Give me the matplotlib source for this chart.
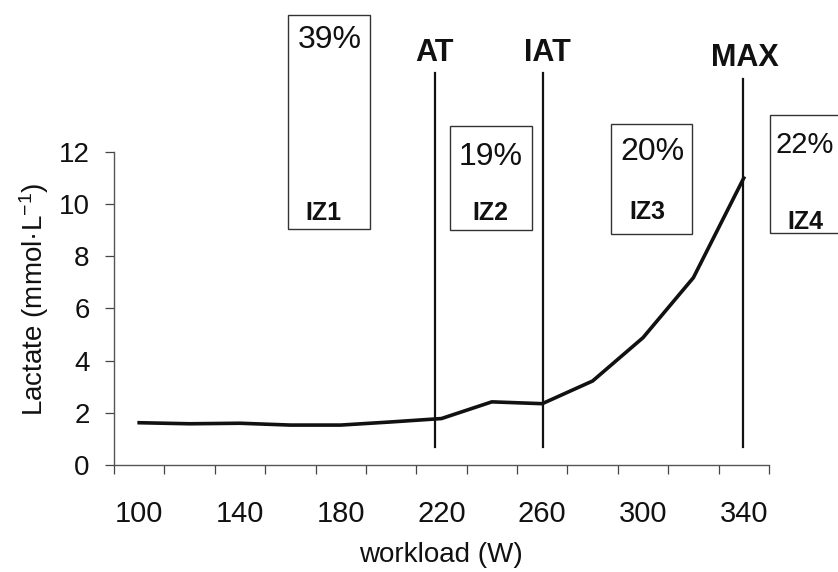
import matplotlib
matplotlib.use("Agg")
import matplotlib.pyplot as plt
from matplotlib.patches import Rectangle
import numpy as np

plt.rcParams['font.family'] = ['Liberation Sans', 'DejaVu Sans']
plt.rcParams['mathtext.fontset'] = 'custom'
plt.rcParams['mathtext.rm'] = 'Liberation Sans'
plt.rcParams['mathtext.it'] = 'Liberation Sans:italic'

# 数据
workload = [100, 120, 140, 160, 180, 200, 220, 240, 260, 280, 300, 320, 340]
lactate = [1.62, 1.58, 1.60, 1.53, 1.53, 1.65, 1.78, 2.42, 2.35, 3.22, 4.88, 7.18, 11.0]
xtick_labels = [100, 140, 180, 220, 260, 300, 340]
yticks = [0, 2, 4, 6, 8, 10, 12]

# 阈值线
thresholds = ['AT', 'IAT', 'MAX']
threshold_x = [217.4, 260.3, 339.7]

# 强度区
zones = ['IZ1', 'IZ2', 'IZ3', 'IZ4']
zone_pct = ['39%', '19%', '20%', '22%']

ink = '#111111'

fig = plt.figure(figsize=(8.38, 5.72), dpi=100)
ax = fig.add_axes([0.1360, 0.1871, 0.7816, 0.5472])

ax.plot(workload, lactate, color=ink, lw=2.6, solid_joinstyle='round')

ax.set_xlim(90, 350)
ax.set_ylim(0, 12)

# 类别轴：刻度在类别之间，标签隔一个
ax.set_xticks(np.arange(90, 351, 20))
ax.set_xticklabels([])
ax.set_xticks(xtick_labels, minor=True)
ax.set_xticklabels([str(v) for v in xtick_labels], minor=True)
ax.tick_params(axis='x', which='major', direction='out', length=6.5, width=0.9, color='#444444')
ax.tick_params(axis='x', which='minor', length=0, pad=25, labelsize=21, labelcolor=ink)

ax.set_yticks(yticks)
ax.set_yticklabels([str(v) for v in yticks])
ax.tick_params(axis='y', direction='out', length=6.5, width=0.9, color='#444444',
               pad=11, labelsize=20, labelcolor=ink)

for s in ['top', 'right']:
    ax.spines[s].set_visible(False)
for s in ['left', 'bottom']:
    ax.spines[s].set_color('#555555')
    ax.spines[s].set_linewidth(1.0)

fig.text(34 / 838, 1 - 299 / 572, 'Lactate (mmol·L$^{-1}$)', rotation=90,
         ha='center', va='center', fontsize=20, color=ink)
fig.text(441 / 838, 1 - 555 / 572, 'workload (W)', ha='center', va='center',
         fontsize=20, color=ink)

# 阈值竖线和标签
label_x = [217.4, 262.0, 340.5]
label_y = [15.8, 15.8, 15.6]
line_top = [15.03, 15.03, 14.8]
for name, x, lx, ly, top in zip(thresholds, threshold_x, label_x, label_y, line_top):
    ax.plot([x, x], [0.69, top], color=ink, lw=1.6, clip_on=False)
    ax.text(lx, ly, name, ha='center', va='center', fontsize=22,
            fontweight='bold', color=ink, clip_on=False)

# 强度区方框
box_x0 = [159.1, 223.4, 287.3, 350.4]
box_x1 = [191.6, 255.9, 319.5, 402.0]
box_y0 = [9.05, 9.01, 8.86, 8.90]
box_y1 = [17.25, 13.0, 13.07, 13.42]
pct_xy = [(175.7, 16.3), (239.7, 11.81), (303.6, 12.0), (352.5, 12.27)]
pct_ha = ['center', 'center', 'center', 'left']
pct_size = [23, 23, 23, 21]
iz_xy = [(173, 9.66), (239.3, 9.66), (301.6, 9.70), (364.3, 9.32)]

for i in range(len(zones)):
    rect = Rectangle((box_x0[i], box_y0[i]), box_x1[i] - box_x0[i], box_y1[i] - box_y0[i],
                     fill=False, edgecolor='#333333', lw=1.0, clip_on=False)
    ax.add_patch(rect)
    ax.text(pct_xy[i][0], pct_xy[i][1], zone_pct[i], ha=pct_ha[i], va='center',
            fontsize=pct_size[i], color=ink, clip_on=False)
    ax.text(iz_xy[i][0], iz_xy[i][1], zones[i], ha='center', va='center',
            fontsize=18, fontweight='bold', color=ink, clip_on=False)

fig.savefig('out.png', dpi=100, facecolor='white')
